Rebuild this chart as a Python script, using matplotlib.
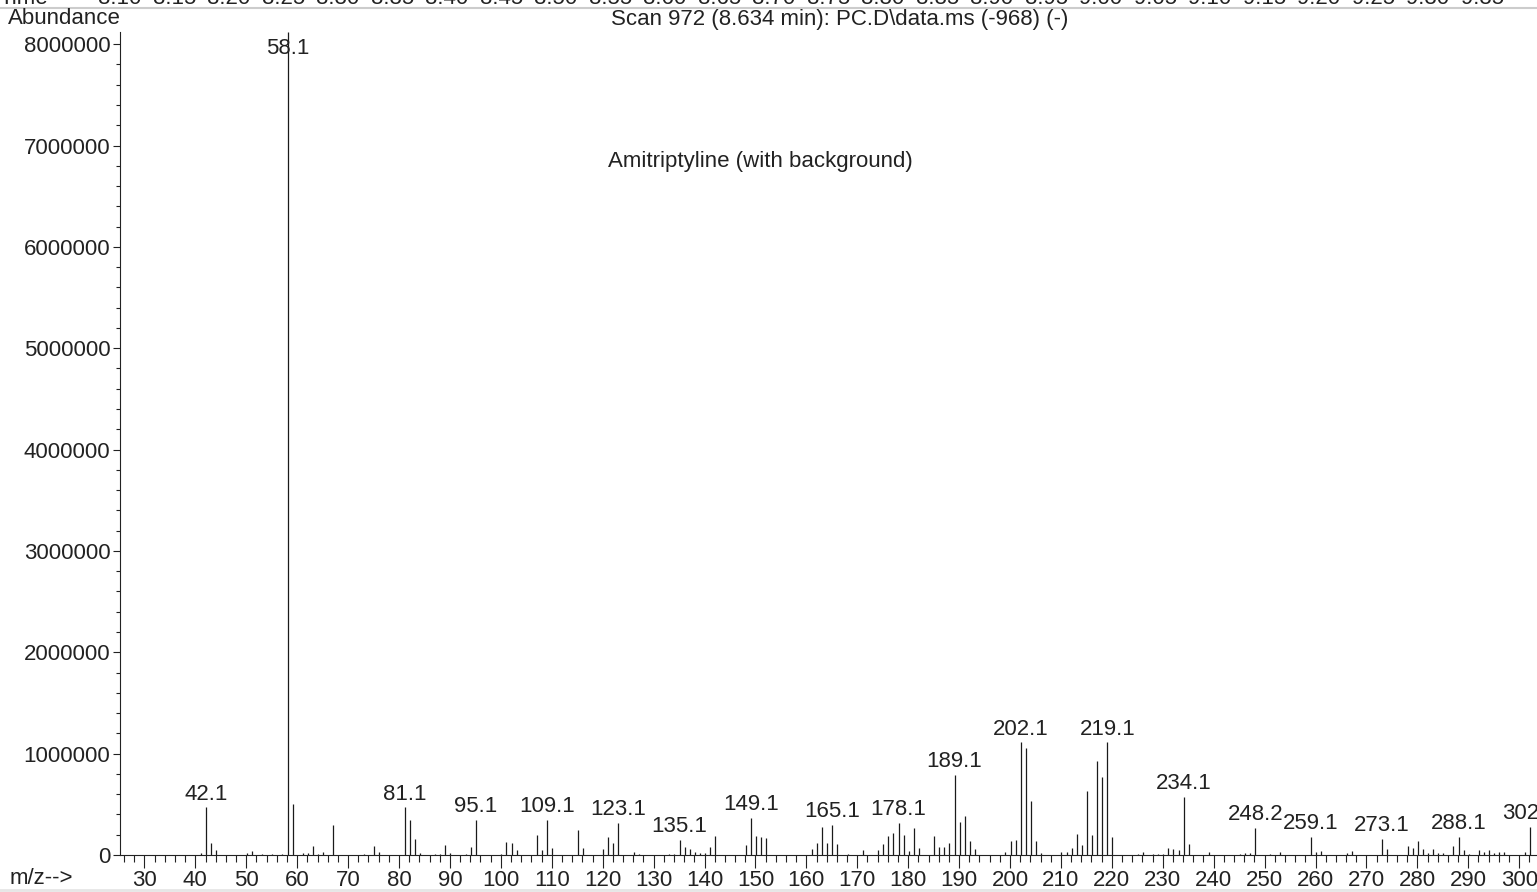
import numpy as np
import matplotlib.pyplot as plt
from matplotlib.ticker import MultipleLocator
from matplotlib.lines import Line2D

plt.rcParams['font.family'] = ['Liberation Sans', 'DejaVu Sans']

# m/z values and abundances
mz = [41.1, 42.1, 43.1, 44.1, 50.1, 51.1, 53.1, 55.1, 57.1, 58.1, 59.1, 61.1, 62.1, 63.1, 64.1,
      65.1, 67.1, 73.1, 75.1, 76.1, 81.1, 82.1, 83.1, 84.1, 87.1, 88.1, 89.1, 90.1, 93.1, 94.1,
      95.1, 100.1, 101.1, 102.1, 103.1, 107.1, 108.1, 109.1, 110.1, 115.1, 116.1, 120.1, 121.1,
      122.1, 123.1, 126.1, 127.1, 133.1, 134.1, 135.1, 136.1, 137.1, 138.1, 139.1, 140.1, 141.1,
      142.1, 148.1, 149.1, 150.1, 151.1, 152.1, 161.1, 162.1, 163.1, 164.1, 165.1, 166.1, 168.1,
      171.1, 174.1, 175.1, 176.1, 177.1, 178.1, 179.1, 180.1, 181.1, 182.1, 185.1, 186.1, 187.1,
      188.1, 189.1, 190.1, 191.1, 192.1, 193.1, 199.1, 200.1, 201.1, 202.1, 203.1, 204.1, 205.1,
      206.1, 210.1, 211.1, 212.1, 213.1, 214.1, 215.1, 216.1, 217.1, 218.1, 219.1, 220.1, 225.1,
      226.1, 228.1, 229.1, 230.1, 231.1, 232.1, 233.1, 234.1, 235.1, 239.1, 245.1, 246.1, 247.1,
      248.2, 251.1, 253.1, 259.1, 260.1, 261.1, 266.1, 267.1, 273.1, 274.1, 278.1, 279.1, 280.1,
      281.1, 282.1, 283.1, 284.1, 285.1, 287.1, 288.1, 289.1, 290.1, 292.1, 293.1, 294.1, 295.1,
      296.1, 297.1, 301.1, 302.2]
abundance = [16000, 470000, 115000, 50000, 16000, 40000, 10000, 12000, 12000, 8120000, 500000,
             16000, 20000, 90000, 8000, 30000, 300000, 10000, 90000, 30000, 470000, 345000, 160000,
             20000, 8000, 8000, 100000, 20000, 8000, 80000, 345000, 10000, 130000, 120000, 45000,
             200000, 50000, 350000, 65000, 250000, 70000, 60000, 180000, 120000, 320000, 30000,
             10000, 8000, 8000, 150000, 80000, 60000, 30000, 15000, 15000, 80000, 185000, 95000,
             365000, 190000, 180000, 165000, 60000, 115000, 280000, 120000, 300000, 110000, 8000,
             45000, 45000, 110000, 185000, 220000, 320000, 200000, 40000, 265000, 70000, 190000,
             80000, 80000, 120000, 790000, 330000, 385000, 135000, 60000, 26000, 135000, 150000,
             1110000, 1060000, 535000, 140000, 20000, 30000, 25000, 65000, 210000, 100000, 635000,
             200000, 930000, 765000, 1110000, 180000, 12000, 25000, 12000, 10000, 12000, 70000,
             60000, 45000, 570000, 110000, 25000, 8000, 18000, 18000, 270000, 8000, 30000, 180000,
             30000, 40000, 15000, 40000, 160000, 60000, 90000, 70000, 140000, 60000, 15000, 60000,
             15000, 15000, 90000, 180000, 45000, 10000, 45000, 25000, 45000, 15000, 25000, 30000,
             30000, 280000]
labeled = [42.1, 58.1, 81.1, 95.1, 109.1, 123.1, 135.1, 149.1, 165.1, 178.1, 189.1, 202.1,
           219.1, 234.1, 248.2, 259.1, 273.1, 288.1, 302.2]
time_labels = ['8.10', '8.15', '8.20', '8.25', '8.30', '8.35', '8.40', '8.45', '8.50', '8.55',
               '8.60', '8.65', '8.70', '8.75', '8.80', '8.85', '8.90', '8.95', '9.00', '9.05',
               '9.10', '9.15', '9.20', '9.25', '9.30', '9.35']

W, H = 1537, 892
fig = plt.figure(figsize=(W / 100, H / 100), dpi=100)
ax = fig.add_axes([120 / W, 37 / H, 1 - 120 / W, 823 / H])

ymax = 8120000
ax.vlines(mz, 0, abundance, color='#1a1a1a', lw=0.9)
ax.set_xlim(25.2, 303.5)
ax.set_ylim(0, ymax)

fs = 16
for m, a in zip(mz, abundance):
    if m in labeled:
        if a > ymax * 0.95:
            ax.text(m, ymax * 0.993, f'{m:.1f}', ha='center', va='top', fontsize=fs, color='#222222')
        else:
            ax.annotate(f'{m:.1f}', (m, a), xytext=(0, 2), textcoords='offset points',
                        ha='center', va='bottom', fontsize=fs, color='#222222', annotation_clip=False)

ax.text(151, 6840000, 'Amitriptyline (with background)', ha='center', va='center', fontsize=fs,
        color='#222222')

for s in ['top', 'right']:
    ax.spines[s].set_visible(False)
for s in ['left', 'bottom']:
    ax.spines[s].set_color('#222222')
    ax.spines[s].set_linewidth(0.8)

ax.xaxis.set_major_locator(MultipleLocator(10))
ax.xaxis.set_minor_locator(MultipleLocator(2))
ax.yaxis.set_major_locator(MultipleLocator(1000000))
ax.yaxis.set_minor_locator(MultipleLocator(200000))
ax.xaxis.set_major_formatter(plt.FuncFormatter(lambda v, p: f'{v:.0f}'))
ax.yaxis.set_major_formatter(plt.FuncFormatter(lambda v, p: f'{v:.0f}'))
ax.tick_params(axis='x', which='major', length=9.5, width=0.8, pad=1, labelsize=fs, colors='#222222')
ax.tick_params(axis='x', which='minor', length=5, width=0.8, colors='#222222')
ax.tick_params(axis='y', which='major', length=5, width=0.8, pad=2, labelsize=fs, colors='#222222')
ax.tick_params(axis='y', which='minor', length=3, width=0.8, colors='#222222')

fig.text(8 / W, 1 - 19 / H, 'Abundance', ha='left', va='center', fontsize=fs, color='#222222')
fig.text(840 / W, 1 - 19 / H, 'Scan 972 (8.634 min): PC.D\\data.ms (-968) (-)', ha='center',
         va='center', fontsize=fs, color='#222222')
fig.text(10 / W, 1 - 878 / H, 'm/z-->', ha='left', va='center', fontsize=fs, color='#222222')

# cut-off time axis strip at the very top
fig.text(0, 1 - 4 / H, 'Time', ha='left', va='baseline', fontsize=fs, color='#222222')
for i, t in enumerate(time_labels):
    fig.text((120 + i * 54.5) / W, 1 - 4 / H, t, ha='center', va='baseline', fontsize=fs,
             color='#222222')
fig.add_artist(Line2D([0, 1], [1 - 8 / H, 1 - 8 / H], color='#cccccc', lw=1.5))
fig.add_artist(Line2D([0, 1], [1 - 890 / H, 1 - 890 / H], color='#e6e6e6', lw=2))

fig.savefig('out.png', dpi=100)
